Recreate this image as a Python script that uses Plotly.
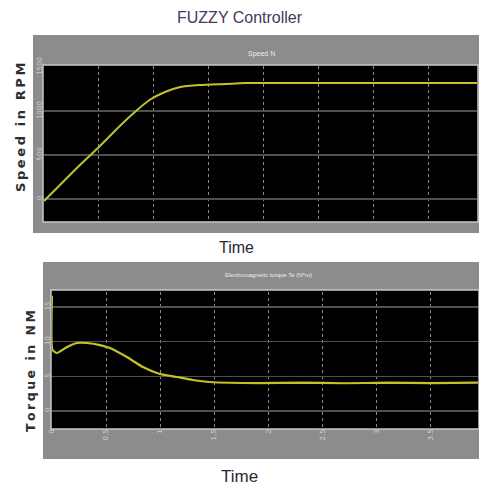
import plotly.graph_objects as go

# ---- data ----
speed_t = [0.0, 0.145, 0.327, 0.509, 0.69, 0.827, 0.96, 1.1, 1.24, 1.42, 1.65, 1.83, 2.4, 3.0, 3.5, 3.94]
speed_v = [-23, 159, 386, 602, 830, 989, 1125, 1216, 1273, 1295, 1307, 1318, 1318, 1318, 1318, 1318]

torque_t = [0.0, 0.005, 0.046, 0.139, 0.231, 0.323, 0.444, 0.536, 0.693, 0.841, 0.998, 1.155, 1.303, 1.46,
            1.92, 2.3, 2.7, 3.1, 3.5, 3.94]
torque_v = [16.6, 8.8, 8.36, 9.22, 9.8, 9.8, 9.5, 9.08, 7.78, 6.34, 5.33, 4.9, 4.47, 4.18,
            4.03, 4.1, 4.0, 4.08, 4.02, 4.1]

time_ticks = [0, 0.5, 1, 1.5, 2, 2.5, 3, 3.5]
time_labels = ["0", "0.5", "1", "1.5", "2", "2.5", "3", "3.5"]
speed_ticks = [0, 500, 1000, 1500]
speed_labels = ["0", "500", "1000", "1500"]
torque_ticks = [0, 5, 10, 15]
torque_labels = ["0", "5", "10", "15"]

title = "FUZZY Controller"
speed_strip = "Speed N"
torque_strip = "Electromagnetic torque Te (N*m)"
speed_title = "Speed in RPM"
torque_title = "Torque in NM"
time_title = "Time"

W, H = 479, 487
def px(x): return x / W
def py(y): return 1 - y / H

def spaced(s):
    return "\u2009".join(s)

LINE = "#c2c22a"
GRAY = "#8c8c8c"
NARROW = "Liberation Sans Narrow, Liberation Sans"

fig = go.Figure()
fig.add_trace(go.Scatter(x=speed_t, y=speed_v, mode="lines",
                         line=dict(color=LINE, width=2, shape="spline", smoothing=0.6),
                         xaxis="x", yaxis="y", showlegend=False, hoverinfo="skip"))
fig.add_trace(go.Scatter(x=torque_t, y=torque_v, mode="lines",
                         line=dict(color=LINE, width=2.2, shape="spline", smoothing=0.5),
                         xaxis="x2", yaxis="y2", showlegend=False, hoverinfo="skip"))

tickfont = dict(family="DejaVu Sans", size=7, color="#d0d0d0")

fig.update_layout(
    width=W, height=H,
    margin=dict(l=0, r=0, t=0, b=0, pad=0, autoexpand=False),
    paper_bgcolor="white",
    plot_bgcolor="rgba(0,0,0,0)",
    xaxis=dict(domain=[px(44), px(477)], anchor="y", range=[0, 3.94], tickvals=time_ticks,
               showticklabels=False, showgrid=True, gridcolor="#8a8a8a", griddash="dot", gridwidth=1,
               zeroline=False, showline=False, ticks="", automargin=False),
    yaxis=dict(domain=[py(221), py(66)], anchor="x", range=[-250, 1511], tickvals=speed_ticks,
               ticktext=speed_labels, tickangle=-90, tickfont=tickfont, showgrid=True,
               gridcolor="#505050", gridwidth=1.5, zeroline=False, showline=False, ticks="",
               automargin=False),
    xaxis2=dict(domain=[px(52), px(478)], anchor="y2", range=[0, 3.94], tickvals=time_ticks,
                ticktext=time_labels, tickangle=-90, tickfont=tickfont, showgrid=True,
                gridcolor="#8a8a8a", griddash="dot", gridwidth=1, zeroline=False, showline=False,
                ticks="", automargin=False),
    yaxis2=dict(domain=[py(427), py(292)], anchor="x2", range=[-2.3, 17.15], tickvals=torque_ticks,
                ticktext=torque_labels, tickangle=-90, tickfont=tickfont, showgrid=True,
                gridcolor="#505050", gridwidth=1.5, zeroline=False, showline=False, ticks="",
                automargin=False),
)

shapes = [
    # gray frames
    dict(type="rect", xref="paper", yref="paper", x0=px(33), x1=px(479), y0=py(233), y1=py(35),
         fillcolor=GRAY, line=dict(width=0), layer="below"),
    dict(type="rect", xref="paper", yref="paper", x0=px(43), x1=px(479), y0=py(459), y1=py(262),
         fillcolor=GRAY, line=dict(width=0), layer="below"),
    # black plot areas with light borders
    dict(type="rect", xref="paper", yref="paper", x0=px(43), x1=px(478), y0=py(222), y1=py(65),
         fillcolor="black", line=dict(width=1.5, color="#c8c8c8"), layer="below"),
    dict(type="rect", xref="paper", yref="paper", x0=px(51), x1=px(479), y0=py(429), y1=py(290),
         fillcolor="black", line=dict(width=1.5, color="#c8c8c8"), layer="below"),
]
fig.update_layout(shapes=shapes)

def ann(text, x, y, size, color, family=NARROW, angle=0, weight="normal"):
    return dict(text=text, x=px(x), y=py(y), xref="paper", yref="paper", showarrow=False,
                xanchor="center", yanchor="middle", textangle=angle,
                font=dict(family=family, size=size, color=color, weight=weight))

anns = [
    ann(title, 240, 18, 16, "#46385a"),
    ann(speed_strip, 261, 54, 7, "#ececec"),
    ann(torque_strip, 268, 275, 6, "#ececec"),
    ann(time_title, 236, 247, 16, "#2d2438"),
    ann(time_title, 239, 476, 17, "#2d2438"),
    ann(spaced(speed_title), 20, 128, 13, "#2e2e2e", family="DejaVu Sans", angle=-90, weight="bold"),
    ann(spaced(torque_title), 30, 371, 12.5, "#2e2e2e", family="DejaVu Sans", angle=-90, weight="bold"),
]
fig.update_layout(annotations=anns)

fig.write_html("out.html", config={"displayModeBar": False, "staticPlot": True},
               post_script="document.body.style.margin='0';document.body.style.overflow='hidden';")
